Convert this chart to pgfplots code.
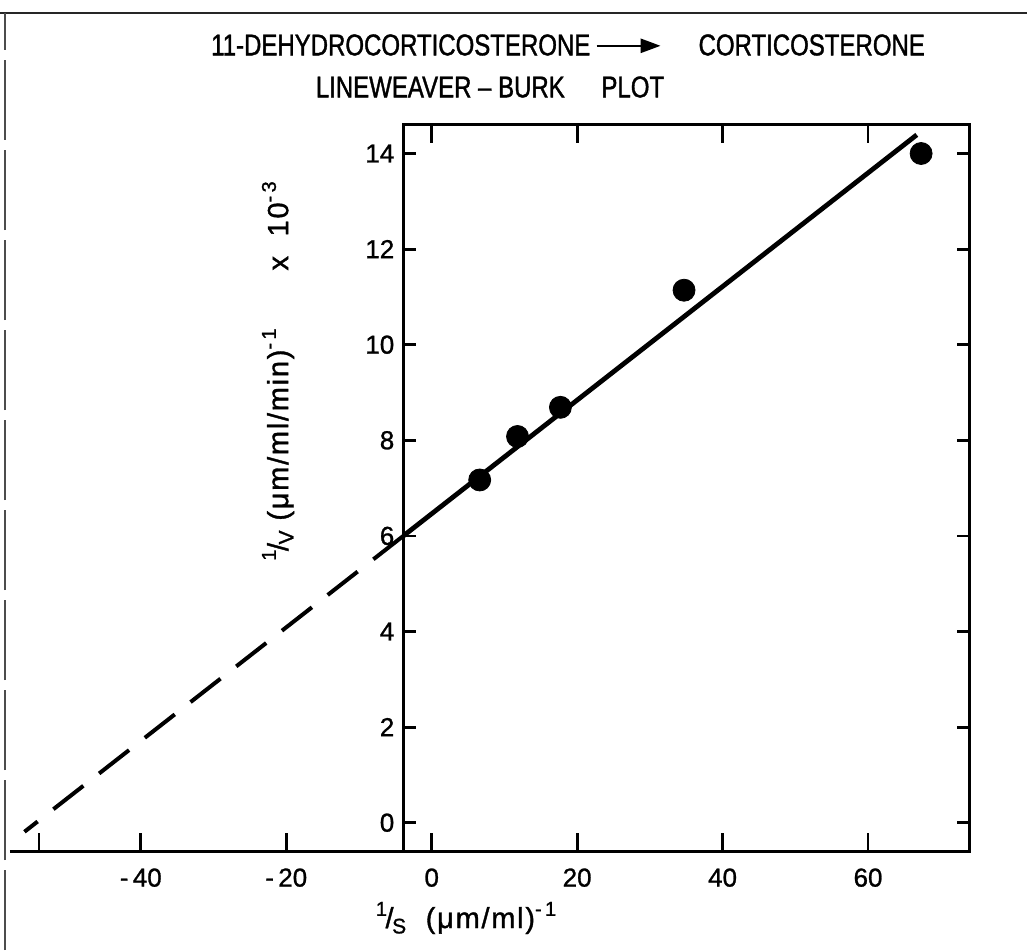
\documentclass[border=0pt]{standalone}
\usepackage{fontspec}
\setmainfont{Liberation Sans}[FakeBold=1]
\newfontfamily\cond{Liberation Sans}[FakeStretch=0.8, FakeBold=1.2]
\newfontfamily\lab{Liberation Sans}[LetterSpace=6, FakeBold=1.2]
\usepackage{pgfplots}
\pgfplotsset{compat=1.18}
\usetikzlibrary{arrows.meta}
\newcommand{\lbl}{\fontsize{13}{15}\selectfont}
\newcommand{\sups}[1]{\raisebox{0.8ex}{\fontsize{10}{10}\selectfont #1}}
\newcommand{\subs}[1]{\raisebox{-0.35ex}{\fontsize{10.5}{10}\selectfont #1}}
\begin{document}
\begin{tikzpicture}
\useasboundingbox (0,0) rectangle (513.5pt,475pt);
\draw[line width=0.7pt, black!85] (0,468.5pt) -- (513.5pt,468.5pt);
\draw[line width=0.6pt, black!70, dash pattern=on 40pt off 5pt] (2.5pt,0) -- (2.5pt,468.5pt);

% extended bottom axis
\begin{axis}[
  at={(4.96pt,49.31pt)}, anchor=south west,
  x=3.636pt, y=23.9pt,
  xmin=-58, xmax=74, ymin=-0.6, ymax=14.6,
  axis x line=bottom, axis y line=none,
  axis line style={-, line width=1.5pt},
  xtick={-40,-20,0,20,40,60},
  xticklabels={{-\,40},{-\,20},0,20,40,60},
  extra x ticks={-54}, extra x tick labels={},
  xtick align=inside,
  major tick length=9pt,
  tick style={line width=1.4pt, black},
  xticklabel style={font=\lbl, yshift=-5pt},
  clip=false,
]
\addplot[black, line width=2pt, dash pattern=on 19pt off 10pt] coordinates {(-3.9,6.0) (-56,-0.19)};
\end{axis}

% main box
\begin{axis}[
  at={(201.67pt,49.31pt)}, anchor=south west,
  x=3.636pt, y=23.9pt,
  xmin=-3.9, xmax=74, ymin=-0.6, ymax=14.6,
  axis line style={line width=1.5pt},
  xtick=\empty,
  ytick={0,2,4,6,8,10,12,14},
  yticklabels={0,2,4,6,8,10,12,14},
  tick align=inside, major tick length=6.5pt,
  tick style={line width=1.4pt, black},
  yticklabel style={font=\lbl, xshift=-1pt},
  clip=false,
]
\addplot[black, line width=2.4pt] coordinates {(-3.9,6.0) (66.7,14.39)};
\addplot[only marks, mark=*, mark size=5.5pt, black] coordinates {(6.6,7.17) (11.8,8.08) (17.7,8.69) (34.7,11.14) (67.3,14.0)};
\end{axis}

% top ticks
\begin{axis}[
  at={(201.67pt,49.31pt)}, anchor=south west,
  x=3.636pt, y=23.9pt,
  xmin=-3.9, xmax=74, ymin=-0.6, ymax=14.6,
  axis x line=top, axis y line=none,
  axis line style={-, line width=1.5pt},
  xtick={0,20,40,60}, xticklabels={},
  xtick align=inside, major tick length=9pt,
  tick style={line width=1.4pt, black},
]
\end{axis}

\node at (284pt,452.5pt) {\cond\fontsize{15}{17}\selectfont 11-DEHYDROCORTICOSTERONE\,\tikz[baseline=-0.6ex]\draw[line width=1.3pt,-{Triangle[length=10pt,width=7pt]}] (0,0)--(32pt,0);\quad\ CORTICOSTERONE};
\node at (245pt,431.5pt) {\cond\fontsize{15}{17}\selectfont LINEWEAVER – BURK\quad\ PLOT};
\node[rotate=90] at (139pt,289.5pt) {\lab\fontsize{14.5}{16}\selectfont \sups{1}\kern-0.05em/\kern-0.05em\subs{V}\ (μm/ml/min)\sups{-\,1}\quad\quad x\ \ 10\sups{-\,3}};
\node at (233pt,16pt) {\lab\fontsize{14.5}{16}\selectfont \sups{1}\kern-0.05em/\kern-0.05em\subs{S}\ \ (μm/ml)\sups{-\,1}};
\end{tikzpicture}
\end{document}
